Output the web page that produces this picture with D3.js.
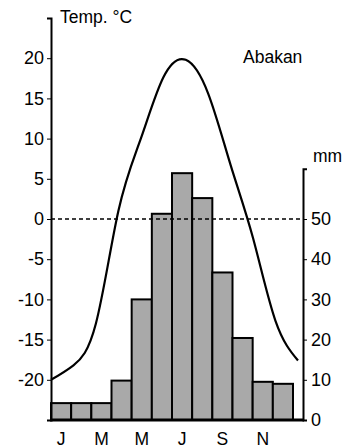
<!DOCTYPE html>
<html lang="en">
<head>
<meta charset="UTF-8">
<title>Abakan</title>
<script src="https://d3js.org/d3.v7.min.js"></script>
<style>
    body { margin: 0; background: #fff; }
    text { font-family: "Liberation Sans", Arial, sans-serif; fill: #000; }
    .lbl { font-size: 17.5px; }
</style>
</head>
<body>
<svg width="350" height="448"></svg>
<script>
    const months = ["Jan", "Feb", "Mar", "Apr", "May", "Jun", "Jul", "Aug", "Sep", "Oct", "Nov", "Dec"]
    const monthLetters = ["J", "", "M", "", "M", "", "J", "", "S", "", "N", ""]
    const temperature = [-20.0, -18.2, -13.0, 1.0, 10.0, 17.6, 19.8, 15.6, 6.7, -2.4, -12.7, -17.6]
    const precipitation = [4.2, 4.2, 4.2, 9.8, 30, 51.3, 61.4, 55.2, 36.7, 20.4, 9.5, 9]
    const tempTicks = [-20, -15, -10, -5, 0, 5, 10, 15, 20]
    const precTicks = [0, 10, 20, 30, 40, 50]

    const svg = d3.select("svg")

    const plotLeft = 51, plotRight = 303, plotBottom = 420, plotTop = 18

    const yT = d3.scaleLinear().domain([-25, 25]).range([plotBottom, plotTop])
    const yP = d3.scaleLinear().domain([0, 100]).range([plotBottom, plotTop])
    const xBar = d3.scaleBand().domain(months).range([plotLeft, 293]).padding(0)
    const xLine = d3.scalePoint().domain(months).range([plotLeft, 298])

    // bars
    svg.selectAll("rect.bar")
        .data(precipitation)
        .enter()
        .append("rect")
        .attr("class", "bar")
        .attr("x", (d, i) => xBar(months[i]))
        .attr("width", xBar.bandwidth())
        .attr("y", d => yP(d))
        .attr("height", d => yP(0) - yP(d))
        .attr("fill", "#a9a9a9")
        .attr("stroke", "#000")
        .attr("stroke-width", 2)

    // linea de cero
    svg.append("line")
        .attr("x1", plotLeft).attr("x2", plotRight)
        .attr("y1", yT(0)).attr("y2", yT(0))
        .attr("stroke", "#000")
        .attr("stroke-width", 1.6)
        .attr("stroke-dasharray", "4,3")

    // curva de temperatura
    const line = d3.line()
        .x((d, i) => xLine(months[i]))
        .y(d => yT(d))
        .curve(d3.curveNatural)

    svg.append("path")
        .datum(temperature)
        .attr("d", line)
        .attr("fill", "none")
        .attr("stroke", "#000")
        .attr("stroke-width", 2.2)

    // eje izquierdo
    const axisL = svg.append("g")
        .attr("transform", `translate(${plotLeft},0)`)
        .call(d3.axisLeft(yT).tickValues(tempTicks).tickSizeOuter(0).tickSize(4).tickFormat(d => d))
    axisL.select(".domain").attr("stroke-width", 2)
    axisL.selectAll("text").attr("font-size", 18).attr("font-family", null).attr("x", -7)

    // eje derecho
    const yPAxis = yP.copy().domain([0, 62.5]).range([plotBottom, yP(62.5)])
    const axisR = svg.append("g")
        .attr("transform", `translate(${plotRight},0)`)
        .call(d3.axisRight(yPAxis).tickValues(precTicks).tickSizeOuter(0).tickSize(4).tickFormat(d => d))
    axisR.select(".domain").attr("stroke-width", 2)
    axisR.selectAll("text").attr("font-size", 18).attr("font-family", null).attr("x", 8)

    // eje inferior
    svg.append("line")
        .attr("x1", plotLeft - 1).attr("x2", plotRight + 1)
        .attr("y1", plotBottom).attr("y2", plotBottom)
        .attr("stroke", "#000")
        .attr("stroke-width", 3)

    svg.selectAll("text.mes")
        .data(monthLetters)
        .enter()
        .append("text")
        .attr("class", "lbl mes")
        .attr("text-anchor", "middle")
        .attr("x", (d, i) => xBar(months[i]) + xBar.bandwidth() / 2)
        .attr("y", 445)
        .text(d => d)

    svg.append("text").attr("class", "lbl").attr("x", 60).attr("y", 23).text("Temp. °C")
    svg.append("text").attr("class", "lbl").attr("x", 243).attr("y", 63).text("Abakan")
    svg.append("text").attr("class", "lbl").attr("x", 313).attr("y", 162).text("mm")
</script>
</body>
</html>
